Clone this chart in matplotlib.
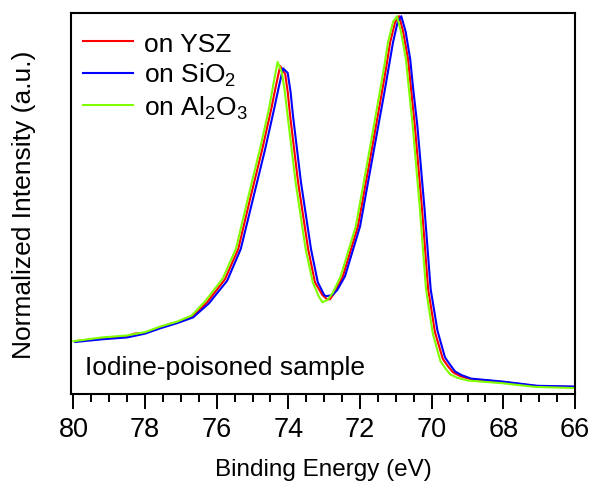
import numpy as np
import matplotlib
matplotlib.use("Agg")
import matplotlib.pyplot as plt
from matplotlib.ticker import MultipleLocator

plt.rcParams["font.family"] = ["Liberation Sans", "DejaVu Sans"]

# spectra (binding energy in eV, normalized intensity)
ysz_energy = [79.95, 79.2, 78.50, 78.3, 78.0, 77.58, 77.3, 77.1, 76.66, 76.27, 75.77, 75.40,
              75.07, 74.73, 74.48, 74.35, 74.23, 74.09, 74.02, 73.95, 73.73, 73.45, 73.26,
              73.05, 72.92, 72.84, 72.70, 72.48, 72.06, 71.72, 71.39, 71.27, 71.16, 71.02,
              70.91, 70.80, 70.66, 70.58, 70.47, 70.27, 70.10, 69.91, 69.69, 69.55, 69.41,
              69.21, 68.93, 68.01, 67.06, 66.06]
ysz_intensity = [0.140, 0.148, 0.153, 0.160, 0.162, 0.177, 0.186, 0.190, 0.206, 0.243, 0.304, 0.384,
                 0.516, 0.648, 0.754, 0.815, 0.868, 0.847, 0.800, 0.735, 0.561, 0.384, 0.296,
                 0.262, 0.251, 0.251, 0.270, 0.312, 0.444, 0.622, 0.799, 0.865, 0.931, 0.985,
                 1.000, 0.960, 0.886, 0.810, 0.709, 0.489, 0.278, 0.164, 0.093, 0.074, 0.058,
                 0.048, 0.040, 0.032, 0.021, 0.019]

sio2_energy = [79.95, 79.2, 78.50, 78.0, 77.58, 77.1, 76.66, 76.22, 75.71, 75.33, 74.99, 74.65,
               74.40, 74.27, 74.15, 74.02, 73.94, 73.87, 73.65, 73.37, 73.18, 73.00, 72.95,
               72.78, 72.64, 72.42, 72.00, 71.66, 71.32, 71.20, 71.08, 70.95, 70.85, 70.73,
               70.60, 70.52, 70.40, 70.20, 70.03, 69.84, 69.63, 69.49, 69.35, 69.16, 68.90,
               68.00, 67.05, 66.00]
sio2_intensity = [0.138, 0.145, 0.150, 0.160, 0.174, 0.188, 0.203, 0.240, 0.300, 0.384, 0.516, 0.648,
                  0.754, 0.812, 0.862, 0.850, 0.800, 0.735, 0.561, 0.384, 0.296, 0.262, 0.259,
                  0.262, 0.275, 0.312, 0.444, 0.622, 0.799, 0.865, 0.931, 0.985, 1.000, 0.960,
                  0.886, 0.810, 0.709, 0.489, 0.278, 0.168, 0.097, 0.078, 0.060, 0.050, 0.041,
                  0.033, 0.022, 0.020]

al2o3_energy = [80.00, 79.2, 78.52, 78.0, 77.60, 77.1, 76.70, 76.33, 75.83, 75.46, 75.13, 74.79,
                74.54, 74.42, 74.30, 74.18, 74.10, 74.02, 73.80, 73.52, 73.32, 73.15, 73.05,
                72.90, 72.76, 72.54, 72.12, 71.78, 71.45, 71.33, 71.22, 71.08, 70.97, 70.86,
                70.72, 70.64, 70.53, 70.33, 70.16, 69.97, 69.76, 69.62, 69.48, 69.28, 69.00,
                68.05, 67.10, 66.00]
al2o3_intensity = [0.140, 0.150, 0.155, 0.164, 0.178, 0.192, 0.208, 0.245, 0.306, 0.386, 0.518, 0.650,
                   0.756, 0.820, 0.879, 0.850, 0.800, 0.735, 0.561, 0.384, 0.296, 0.258, 0.243,
                   0.250, 0.268, 0.312, 0.444, 0.622, 0.799, 0.865, 0.931, 0.985, 1.000, 0.960,
                   0.886, 0.810, 0.709, 0.489, 0.278, 0.160, 0.088, 0.068, 0.052, 0.043, 0.036,
                   0.029, 0.019, 0.016]

labels = ["on YSZ", r"on SiO$\mathregular{_2}$", r"on Al$\mathregular{_2}$O$\mathregular{_3}$"]
colors = ["#ff0000", "#0000ff", "#7fff00"]

fig = plt.figure(figsize=(5.91, 4.89), dpi=100)
ax = fig.add_axes([0.120, 0.192, 0.853, 0.779])

series = [(ysz_energy, ysz_intensity), (sio2_energy, sio2_intensity), (al2o3_energy, al2o3_intensity)]
for (e, i), lab, c in zip(series, labels, colors):
    ax.plot(e, i, color=c, lw=1.5, label=lab)

ax.set_xlim(80.07, 66.0)
ax.set_ylim(0, 1.008)

ax.xaxis.set_major_locator(MultipleLocator(2))
ax.xaxis.set_minor_locator(MultipleLocator(0.5))
ax.tick_params(axis="x", which="major", direction="out", length=10.5, width=1.4,
               labelsize=19.5, pad=5)
ax.tick_params(axis="x", which="minor", direction="out", length=5.5, width=1.4)
ax.set_yticks([])
for s in ax.spines.values():
    s.set_linewidth(1.5)

ax.set_xlabel("Binding Energy (eV)", fontsize=17.5, labelpad=12)
ax.set_ylabel("Normalized Intensity (a.u.)", fontsize=19, labelpad=25)

ax.text(0.028, 0.052, "Iodine-poisoned sample", transform=ax.transAxes,
        fontsize=19, va="baseline", ha="left")

ax.legend(loc="upper left", frameon=False, fontsize=19, handlelength=1.9,
          handletextpad=0.4, labelspacing=0.2, borderaxespad=0.0,
          bbox_to_anchor=(0.003, 0.979))

fig.savefig("out.png", dpi=100)
